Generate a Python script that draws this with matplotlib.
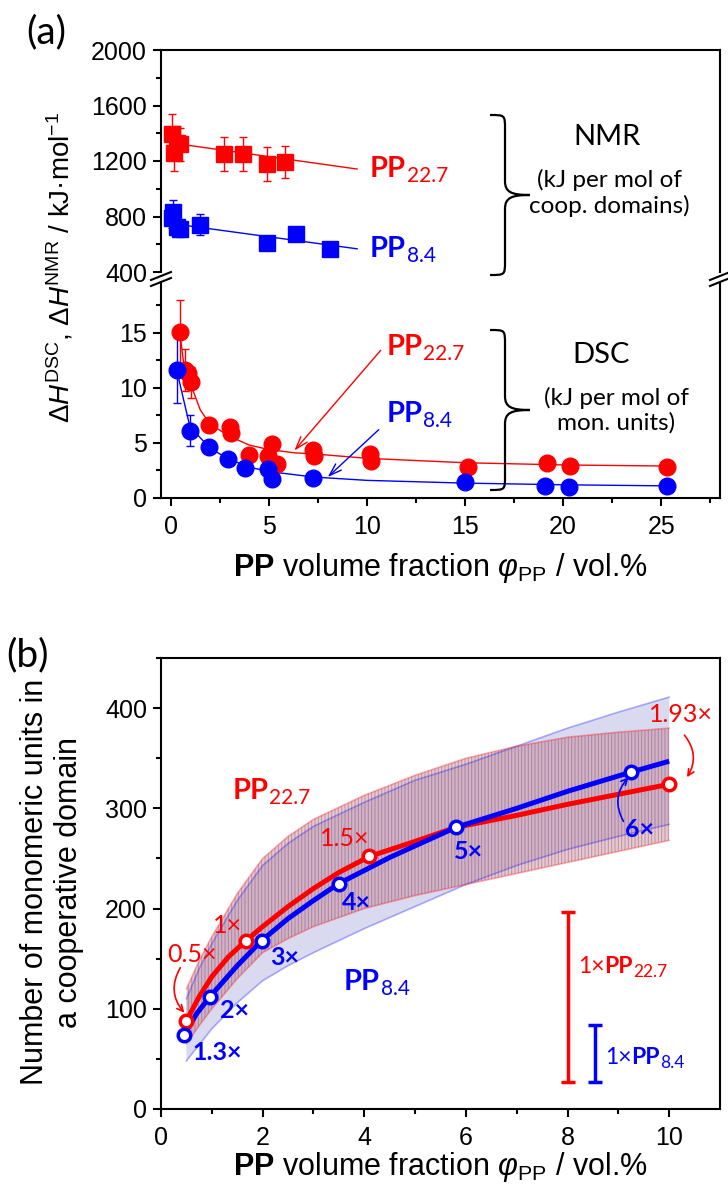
import numpy as np
import matplotlib.pyplot as plt
from matplotlib.path import Path
from matplotlib.patches import PathPatch
from matplotlib.lines import Line2D

plt.rcParams['font.family'] = ['Liberation Sans', 'DejaVu Sans']
plt.rcParams['mathtext.fontset'] = 'custom'
plt.rcParams['mathtext.rm'] = 'Liberation Sans'
plt.rcParams['mathtext.it'] = 'Liberation Sans:italic'
plt.rcParams['mathtext.bf'] = 'Liberation Sans:bold'
plt.rcParams['hatch.linewidth'] = 0.7

# ---- panel (a) data: NMR (top) ----
nmr_red_x = [0.05, 0.15, 0.3, 0.45, 2.7, 3.7, 4.9, 5.8]
nmr_red_y = [1396, 1258, 1331, 1320, 1251, 1251, 1178, 1193]
nmr_red_err = [140, 130, 120, 120, 125, 125, 125, 115]
nmr_red_fit_x = [0.05, 9.5]
nmr_red_fit_y = [1330, 1142]

nmr_blue_x = [0.05, 0.1, 0.3, 0.45, 1.5, 4.9, 6.4, 8.1]
nmr_blue_y = [790, 836, 727, 713, 742, 612, 676, 567]
nmr_blue_err = [70, 80, 70, 60, 75, 0, 0, 0]
nmr_blue_fit_x = [0.05, 9.5]
nmr_blue_fit_y = [749, 567]

# ---- panel (a) data: DSC (bottom) ----
dsc_red_x = [0.46, 0.7, 0.9, 1.05, 1.95, 3.0, 3.05, 4.0, 4.95, 5.15, 5.4, 7.25, 7.3, 10.15, 10.2, 15.15, 19.2, 20.35, 25.3]
dsc_red_y = [15.1, 11.6, 11.3, 10.5, 6.6, 6.4, 5.9, 3.9, 3.8, 4.9, 3.1, 4.4, 3.8, 4.0, 3.4, 2.8, 3.2, 2.9, 2.8]
dsc_red_err = [2.9, 1.9, 0, 1.4, 0, 0, 0, 0, 0, 0, 0, 0, 0, 0, 0, 0, 0, 0, 0]
dsc_red_fit_x = [0.46, 0.7, 1.0, 1.5, 2.0, 3.0, 4.0, 5.0, 6.3, 7.3, 10, 15, 20, 25.3]
dsc_red_fit_y = [15.0, 11.6, 10.4, 8.0, 6.7, 5.6, 4.8, 4.4, 4.1, 4.0, 3.6, 3.2, 3.0, 2.9]

dsc_blue_x = [0.3, 0.97, 1.95, 2.9, 3.8, 4.95, 5.15, 7.25, 15.0, 19.1, 20.3, 25.3]
dsc_blue_y = [11.6, 6.1, 4.6, 3.5, 2.7, 2.6, 1.7, 1.8, 1.45, 1.1, 1.0, 1.1]
dsc_blue_err = [3.0, 1.4, 0, 0, 0, 0, 0, 0, 0, 0, 0, 0]
dsc_blue_fit_x = [0.3, 0.97, 2.0, 3.0, 4.0, 5.0, 7.3, 10, 15, 20, 25.3]
dsc_blue_fit_y = [11.6, 6.5, 4.5, 3.5, 2.8, 2.4, 1.9, 1.6, 1.35, 1.2, 1.1]

# ---- panel (b) data ----
red_pts_x = [0.5, 1.67, 4.1, 10.0]
red_pts_y = [88, 168, 252, 324]
red_pts_lab = ['0.5×', '1×', '1.5×', '1.93×']
blue_pts_x = [0.45, 0.96, 1.98, 3.5, 5.8, 9.24]
blue_pts_y = [74, 112, 168, 225, 281, 336]
blue_pts_lab = ['1.3×', '2×', '3×', '4×', '5×', '6×']

red_curve_x = [0.5, 0.75, 1.0, 1.33, 1.67, 2.0, 2.5, 3.0, 3.5, 4.1, 5.0, 5.8, 7.0, 8.0, 9.0, 10.0]
red_curve_y = [88, 112, 132, 152, 168, 182, 202, 220, 236, 252, 267, 281, 293, 304, 314, 324]
blue_curve_x = [0.45, 0.7, 0.96, 1.5, 1.98, 2.5, 3.0, 3.5, 4.5, 5.8, 7.0, 8.0, 9.24, 10.0]
blue_curve_y = [74, 95, 112, 143, 168, 190, 208, 225, 251, 281, 300, 317, 336, 347]

band_x = [0.5, 0.75, 1, 1.5, 2, 2.5, 3, 4, 5, 6, 7, 8, 9, 10]
red_up = [120, 148, 172, 215, 250, 272, 289, 313, 333, 350, 362, 371, 376, 380]
red_lo = [65, 83, 100, 130, 156, 170, 182, 200, 213, 224, 235, 246, 257, 268]
blue_up = [110, 140, 165, 208, 243, 265, 282, 306, 328, 344, 362, 380, 396, 411]
blue_lo = [48, 64, 80, 106, 128, 143, 156, 180, 202, 224, 243, 259, 272, 284]

scale_x = [8.0, 8.55]
scale_lo = [27, 27]
scale_hi = [197, 84]

RED = '#ff0000'
BLUE = '#0000ff'
W, H = 728, 1188


def fx(px):
    return px / W


def fy(py):
    return 1 - py / H


def pp_label(ax, x, y, sub, color, size=21, subsize=15, prefix=None,
             transform=None):
    kw = dict(color=color, family='Lato')
    if transform is None:
        transform = ax.transData
    if prefix:
        t0 = ax.text(x, y, prefix, fontsize=size, va='baseline',
                     transform=transform, **kw)
        t = ax.annotate('PP', xy=(1, 0), xycoords=t0, va='bottom', ha='left',
                        fontsize=size, fontweight='bold', **kw)
    else:
        t = ax.text(x, y, 'PP', fontsize=size, fontweight='bold',
                    va='baseline', transform=transform, **kw)
    ax.annotate(sub, xy=(1, 0), xycoords=t, xytext=(0.5, 0),
                textcoords='offset points', va='baseline', ha='left',
                fontsize=subsize, **kw)


def brace(fig, x0, xm, xt, top, bot, r=14):
    mid = (top + bot) / 2
    k = 0.25 * (xt - xm)
    pts = [(x0, top),
           (xm, top), (xm, top), (xm, top + r),
           (xm, mid - r),
           (xm, mid - 0.2 * r), (xm + k, mid), (xt, mid),
           (xm + k, mid), (xm, mid + 0.2 * r), (xm, mid + r),
           (xm, bot - r),
           (xm, bot), (xm, bot), (x0, bot)]
    codes = [Path.MOVETO] + [Path.CURVE4] * 3 + [Path.LINETO] + \
        [Path.CURVE4] * 6 + [Path.LINETO] + [Path.CURVE4] * 3
    verts = [(fx(a), fy(b)) for a, b in pts]
    fig.add_artist(PathPatch(Path(verts, codes), fill=False, lw=1.6,
                             edgecolor='black', transform=fig.transFigure))


def style(ax):
    for s in ax.spines.values():
        s.set_linewidth(1.5)
    ax.tick_params(which='both', direction='out', width=1.5, labelsize=18,
                   top=False, right=False)
    ax.tick_params(which='major', length=6, pad=4)
    ax.tick_params(which='minor', length=3.5)


fig = plt.figure(figsize=(7.28, 11.88), dpi=100)

ax1 = fig.add_axes([fx(161), fy(272), (720 - 161) / W, (272 - 50) / H])
ax2 = fig.add_axes([fx(161), fy(498), (720 - 161) / W, (498 - 282) / H])
ax3 = fig.add_axes([fx(161), fy(1109), (720 - 161) / W, (1109 - 658) / H])
for ax in (ax1, ax2, ax3):
    style(ax)

# ---------- (a) top: NMR ----------
ax1.plot(nmr_red_fit_x, nmr_red_fit_y, color=RED, lw=1)
ax1.plot(nmr_blue_fit_x, nmr_blue_fit_y, color=BLUE, lw=1)
ax1.errorbar(nmr_red_x, nmr_red_y, yerr=nmr_red_err, fmt='s', color=RED,
             ms=11, elinewidth=1, capsize=3, capthick=1)
ax1.errorbar(nmr_blue_x, nmr_blue_y, yerr=nmr_blue_err, fmt='s', color=BLUE,
             ms=11, elinewidth=1, capsize=3, capthick=1)
ax1.set_xlim(-0.5, 28)
ax1.set_ylim(400, 2000)
ax1.set_yticks(np.arange(400, 2001, 400))
ax1.set_yticks(np.arange(600, 2000, 400), minor=True)
ax1.spines['bottom'].set_visible(False)
ax1.tick_params(axis='x', which='both', bottom=False, labelbottom=False)
pp_label(ax1, 10.15, 1085, '22.7', RED)
pp_label(ax1, 10.15, 509, '8.4', BLUE)

# ---------- (a) bottom: DSC ----------
ax2.plot(dsc_red_fit_x, dsc_red_fit_y, color=RED, lw=1)
ax2.plot(dsc_blue_fit_x, dsc_blue_fit_y, color=BLUE, lw=1)
ax2.errorbar(dsc_red_x, dsc_red_y, yerr=dsc_red_err, fmt='o', color=RED,
             ms=12, elinewidth=1, capsize=3, capthick=1)
ax2.errorbar(dsc_blue_x, dsc_blue_y, yerr=dsc_blue_err, fmt='o', color=BLUE,
             ms=12, elinewidth=1, capsize=3, capthick=1)
ax2.set_xlim(-0.5, 28)
ax2.set_ylim(0, 19.6)
ax2.set_yticks([0, 5, 10, 15])
ax2.set_yticks([2.5, 7.5, 12.5, 17.5], minor=True)
ax2.set_xticks([0, 5, 10, 15, 20, 25])
ax2.set_xticks([2.5, 7.5, 12.5, 17.5, 22.5, 27.5], minor=True)
ax2.spines['top'].set_visible(False)
ax2.tick_params(axis='x', pad=6)
pp_label(ax2, 11.0, 13.0, '22.7', RED)
pp_label(ax2, 11.0, 6.9, '8.4', BLUE)
ax2.annotate('', xy=(6.3, 4.3), xytext=(10.7, 13.4),
             arrowprops=dict(arrowstyle='->,head_length=0.9,head_width=0.3',
                             color=RED, lw=1.0, shrinkA=0, shrinkB=0))
ax2.annotate('', xy=(8.0, 1.9), xytext=(10.6, 6.2),
             arrowprops=dict(arrowstyle='->,head_length=0.9,head_width=0.3',
                             color=BLUE, lw=1.0, shrinkA=0, shrinkB=0))

# axis breaks
for xb in (161, 720):
    for dy in (0, 6):
        fig.add_artist(Line2D([fx(xb - 10), fx(xb + 10)],
                              [fy(280 + dy), fy(272 + dy)],
                              color='black', lw=1.5,
                              transform=fig.transFigure))

# braces and annotation text
brace(fig, 490, 505, 530, 115, 275)
brace(fig, 490, 505, 530, 330, 490)
fig.text(fx(607), fy(137), 'NMR', ha='center', va='center', fontsize=21,
         family='Lato')
fig.text(fx(609), fy(193), '(kJ per mol of\ncoop. domains)', ha='center',
         va='center', fontsize=17.5, family='Lato', linespacing=1.2)
fig.text(fx(601), fy(355), 'DSC', ha='center', va='center', fontsize=21,
         family='Lato')
fig.text(fx(616), fy(410), '(kJ per mol of\nmon. units)', ha='center',
         va='center', fontsize=17.5, family='Lato', linespacing=1.2)

fig.text(fx(440), fy(568), r'$\mathbf{PP}$ volume fraction $\varphi_{\mathrm{PP}}$ / vol.%',
         ha='center', va='center', fontsize=22)
fig.text(fx(60), fy(267),
         r'$\Delta\mathit{H}^{\mathrm{DSC}}$, $\Delta\mathit{H}^{\mathrm{NMR}}$ / kJ·mol$^{-1}$',
         ha='center', va='center', rotation=90, fontsize=20)
fig.text(fx(26), fy(32), '(a)', ha='left', va='center', fontsize=28,
         family='Lato')

# ---------- (b) ----------
ax3.fill_between(band_x, blue_lo, blue_up, facecolor='#8c8cd2', alpha=0.33,
                 lw=0)
ax3.fill_between(band_x, red_lo, red_up, facecolor='#c07888', alpha=0.4,
                 edgecolor=(0.5, 0.25, 0.4, 0.3), hatch='|||||', lw=0)
for yb, c in ((blue_up, BLUE), (blue_lo, BLUE), (red_up, RED), (red_lo, RED)):
    ax3.plot(band_x, yb, color=c, lw=1.2, alpha=0.3)

ax3.plot(red_curve_x, red_curve_y, color=RED, lw=3.6, solid_capstyle='butt')
ax3.plot(blue_curve_x, blue_curve_y, color=BLUE, lw=3.6, solid_capstyle='butt')
ax3.plot(red_pts_x, red_pts_y, 'o', mfc='white', mec=RED, ms=9, mew=2.5)
ax3.plot(blue_pts_x, blue_pts_y, 'o', mfc='white', mec=BLUE, ms=9, mew=2.5)

ax3.errorbar(scale_x[:1], [(scale_lo[0] + scale_hi[0]) / 2],
             yerr=[(scale_hi[0] - scale_lo[0]) / 2], fmt='none', ecolor=RED,
             elinewidth=2.5, capsize=5, capthick=2.5)
ax3.errorbar(scale_x[1:], [(scale_lo[1] + scale_hi[1]) / 2],
             yerr=[(scale_hi[1] - scale_lo[1]) / 2], fmt='none', ecolor=BLUE,
             elinewidth=2.5, capsize=5, capthick=2.5)

ax3.set_xlim(0, 11)
ax3.set_ylim(0, 450)
ax3.set_xticks(np.arange(0, 11, 2))
ax3.set_xticks(np.arange(1, 11, 2), minor=True)
ax3.set_yticks(np.arange(0, 401, 100))
ax3.set_yticks(np.arange(50, 451, 100), minor=True)
ax3.tick_params(axis='x', pad=6)

# point labels
red_lab_pos = [(0.12, 147), (1.02, 176), (3.12, 262), (9.6, 386)]
blue_lab_pos = [(0.61, 49), (1.16, 91), (2.14, 144), (3.57, 199), (5.76, 249),
                (9.14, 271)]
for lab, (x, y) in zip(red_pts_lab, red_lab_pos):
    ax3.text(x, y, lab, color=RED, fontsize=18, family='Lato', va='baseline')
for lab, (x, y) in zip(blue_pts_lab, blue_lab_pos):
    ax3.text(x, y, lab, color=BLUE, fontsize=18, family='Lato',
             fontweight='bold', va='baseline')

pp_label(ax3, 1.41, 309, '22.7', RED)
pp_label(ax3, 3.6, 119, '8.4', BLUE)
pp_label(ax3, 8.2, 136, '22.7', RED, size=16.5, subsize=12.5, prefix='1×')
pp_label(ax3, 8.73, 45, '8.4', BLUE, size=16.5, subsize=12.5, prefix='1×')

arr = '->,head_length=0.45,head_width=0.22'
ax3.annotate('', xy=(0.46, 96), xytext=(0.38, 141),
             arrowprops=dict(arrowstyle=arr, color=RED, lw=1.2,
                             connectionstyle='arc3,rad=0.35', shrinkA=0,
                             shrinkB=0))
ax3.annotate('', xy=(10.35, 331), xytext=(10.3, 373),
             arrowprops=dict(arrowstyle=arr, color=RED, lw=1.2,
                             connectionstyle='arc3,rad=-0.35', shrinkA=0,
                             shrinkB=0))
ax3.annotate('', xy=(9.2, 331), xytext=(9.1, 287),
             arrowprops=dict(arrowstyle=arr, color=BLUE, lw=1.2,
                             connectionstyle='arc3,rad=-0.35', shrinkA=0,
                             shrinkB=0))

fig.text(fx(440), fy(1167),
         r'$\mathbf{PP}$ volume fraction $\varphi_{\mathrm{PP}}$ / vol.%',
         ha='center', va='center', fontsize=22)
fig.text(fx(52), fy(882), 'Number of monomeric units in\na cooperative domain',
         ha='center', va='center', rotation=90, fontsize=22, linespacing=1.2)
fig.text(fx(6), fy(655), '(b)', ha='left', va='center', fontsize=28,
         family='Lato')

fig.savefig('out.png', dpi=100)
